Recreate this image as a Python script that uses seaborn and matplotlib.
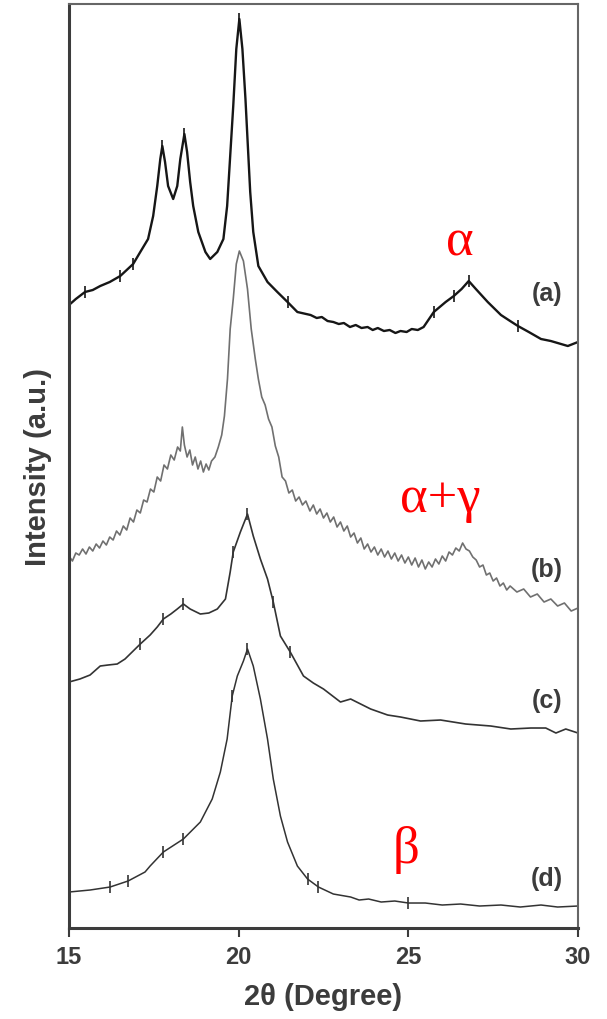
import numpy as np
import pandas as pd
import matplotlib
matplotlib.use("Agg")
import matplotlib.pyplot as plt
import seaborn as sns

# XRD patterns of the four samples (2-theta in degrees, intensity in a.u., stacked offsets)
a_angle = [15.00, 15.20, 15.47, 15.70, 15.92, 16.20, 16.51, 16.70, 16.89, 17.10, 17.33, 17.48,
           17.60, 17.69, 17.75, 17.83, 17.92, 18.07, 18.19, 18.28, 18.40, 18.48, 18.57, 18.66,
           18.81, 19.02, 19.16, 19.37, 19.55, 19.66, 19.75, 19.84, 19.93, 20.02, 20.11, 20.20,
           20.26, 20.34, 20.43, 20.58, 20.85, 21.14, 21.44, 21.73, 22.12, 22.30, 22.45, 22.62,
           22.79, 22.95, 23.10, 23.28, 23.45, 23.62, 23.80, 23.95, 24.10, 24.28, 24.45, 24.62,
           24.77, 24.95, 25.10, 25.28, 25.45, 25.75, 26.10, 26.34, 26.57, 26.78, 26.99, 27.34,
           27.73, 28.00, 28.23, 28.55, 28.91, 29.20, 29.50, 29.70, 30.00]
a_intensity = [622, 628, 635, 637, 641, 645, 651, 657, 663, 675, 688, 711,
               741, 768, 781, 765, 741, 728, 741, 768, 793, 775, 745, 721,
               695, 675, 668, 675, 688, 721, 771, 821, 878, 908, 878, 828,
               788, 735, 695, 661, 645, 635, 625, 615, 612, 609, 610, 606,
               605, 603, 604, 600, 602, 599, 600, 597, 599, 596, 597, 594,
               596, 595, 598, 597, 600, 615, 625, 631, 638, 646, 638, 625,
               612, 606, 601, 595, 588, 586, 583, 581, 585]

b_angle = [15.00, 15.10, 15.20, 15.30, 15.40, 15.50, 15.60, 15.70, 15.80, 15.90,
           16.00, 16.10, 16.20, 16.30, 16.40, 16.50, 16.60, 16.70, 16.80, 16.90,
           17.00, 17.10, 17.20, 17.30, 17.40, 17.50, 17.60, 17.70, 17.80, 17.90,
           18.00, 18.10, 18.20, 18.28, 18.34, 18.40, 18.48, 18.56, 18.64, 18.72,
           18.80, 18.88, 18.96, 19.04, 19.12, 19.20, 19.30, 19.40, 19.50, 19.58,
           19.67, 19.75, 19.84, 19.93, 20.02, 20.14, 20.26, 20.37, 20.49, 20.58,
           20.68, 20.78, 20.88, 20.98, 21.08, 21.18, 21.28, 21.38, 21.48, 21.58,
           21.68, 21.78, 21.88, 21.98, 22.10, 22.20, 22.30, 22.40, 22.50, 22.60,
           22.70, 22.80, 22.90, 23.00, 23.10, 23.20, 23.30, 23.40, 23.50, 23.60,
           23.70, 23.80, 23.90, 24.00, 24.10, 24.20, 24.30, 24.40, 24.50, 24.60,
           24.70, 24.80, 24.90, 25.00, 25.10, 25.20, 25.30, 25.40, 25.50, 25.60,
           25.70, 25.80, 25.90, 26.00, 26.10, 26.20, 26.30, 26.40, 26.50, 26.60,
           26.70, 26.80, 26.90, 27.00, 27.10, 27.20, 27.30, 27.40, 27.50, 27.60,
           27.70, 27.80, 27.90, 28.00, 28.20, 28.40, 28.60, 28.80, 29.00, 29.20,
           29.40, 29.60, 29.80, 30.00]
b_intensity = [371, 366, 374, 372, 378, 373, 380, 376, 383, 379,
               386, 382, 390, 387, 396, 392, 401, 397, 409, 405,
               417, 414, 427, 425, 438, 435, 450, 446, 462, 458,
               472, 467, 480, 476, 500, 482, 470, 477, 462, 470,
               458, 466, 455, 463, 457, 466, 470, 480, 492, 511,
               548, 598, 628, 663, 676, 666, 638, 598, 568, 548,
               530, 522, 508, 500, 481, 470, 450, 446, 434, 437,
               426, 430, 422, 426, 416, 422, 413, 418, 409, 414,
               405, 410, 400, 405, 396, 401, 390, 394, 384, 389,
               378, 383, 375, 380, 372, 378, 370, 376, 368, 374,
               366, 372, 364, 370, 362, 369, 360, 367, 358, 365,
               360, 368, 363, 371, 366, 375, 372, 379, 376, 384,
               378, 376, 370, 367, 360, 362, 352, 354, 346, 349,
               341, 344, 337, 341, 335, 338, 330, 333, 325, 328,
               321, 324, 316, 319]

c_angle = [15.00, 15.32, 15.62, 15.92, 16.15, 16.42, 16.65, 16.89, 17.10, 17.39,
           17.60, 17.78, 18.00, 18.19, 18.37, 18.57, 18.87, 19.12, 19.37, 19.61,
           19.75, 19.84, 20.05, 20.26, 20.43, 20.64, 20.85, 21.02, 21.23, 21.52,
           21.91, 22.20, 22.50, 23.00, 23.30, 23.89, 24.39, 24.77, 25.36, 25.95,
           26.69, 27.43, 28.02, 28.61, 29.05, 29.35, 29.64, 30.00]
c_intensity = [245, 248, 252, 261, 262, 263, 268, 276, 283, 292,
               300, 308, 313, 318, 323, 318, 313, 314, 318, 328,
               355, 375, 395, 413, 391, 368, 348, 325, 291, 275,
               251, 244, 238, 225, 228, 218, 212, 210, 206, 207,
               203, 201, 198, 199, 199, 194, 198, 194]

d_angle = [15.00, 15.62, 16.21, 16.74, 17.24, 17.39, 17.78, 18.37, 18.87, 19.22,
           19.46, 19.66, 19.81, 19.96, 20.14, 20.26, 20.43, 20.64, 20.85, 21.02,
           21.23, 21.44, 21.73, 22.03, 22.35, 22.79, 23.30, 23.55, 23.83, 24.20,
           24.60, 25.00, 25.50, 26.00, 26.54, 27.10, 27.73, 28.30, 28.91, 29.40,
           30.00]
d_intensity = [35, 37, 40, 46, 55, 61, 75, 88, 105, 128,
               155, 188, 231, 251, 266, 278, 261, 228, 188, 148,
               111, 85, 61, 48, 40, 33, 30, 27, 28, 25,
               26, 24, 24, 22, 23, 21, 22, 20, 22, 20,
               21]

sample_labels = ["(a)", "(b)", "(c)", "(d)"]
phase_labels = ["\u03b1", "\u03b1+\u03b3", "\u03b2"]
x_ticks = [15, 20, 25, 30]

sns.set_theme(style="ticks")
plt.rcParams["font.family"] = ["Liberation Sans", "DejaVu Sans"]

fig = plt.figure(figsize=(6.07, 10.20), dpi=100)
ax = fig.add_axes([0.1137, 0.0892, 0.8385, 0.9059])

curves = [
    (a_angle, a_intensity, "#161616", 1.7, [2, 6, 8, 14, 20, 33, 42, 65, 67, 69, 74]),
    (b_angle, b_intensity, "#707070", 1.2, None),
    (c_angle, c_intensity, "#333333", 1.2, [8, 11, 14, 21, 23, 27, 29]),
    (d_angle, d_intensity, "#333333", 1.1, [2, 3, 6, 7, 12, 15, 23, 24, 31]),
]
for ang, inten, col, lw, marks in curves:
    df = pd.DataFrame({"angle": ang, "intensity": inten})
    kw = {}
    if marks is not None:
        kw = dict(marker="|", markevery=marks, markersize=9, markeredgewidth=1.2,
                  markeredgecolor=col)
    sns.lineplot(data=df, x="angle", y="intensity", ax=ax, color=col, linewidth=lw,
                 sort=False, estimator=None, **kw)

ax.set_xlim(15, 30)
ax.set_ylim(-1, 923)
ax.set_xticks(x_ticks)
ax.set_xticklabels([str(t) for t in x_ticks])
ax.set_yticks([])

text_gray = "#3c3c3c"
ax.tick_params(axis="x", direction="out", length=6.5, width=1.5, colors="#3c3c3c",
               labelsize=17, pad=6)
for lab in ax.get_xticklabels():
    lab.set_fontweight("bold")

for side in ["left", "bottom"]:
    ax.spines[side].set_linewidth(2.2)
    ax.spines[side].set_color("#3c3c3c")
for side in ["top", "right"]:
    ax.spines[side].set_visible(True)
    ax.spines[side].set_linewidth(1.5)
    ax.spines[side].set_color("#666666")

ax.set_xlabel("2\u03b8 (Degree)", fontsize=21, fontweight="bold", color=text_gray, labelpad=10)
ax.set_ylabel("Intensity (a.u.)", fontsize=21, fontweight="bold", color=text_gray, labelpad=12)

label_y = [634, 358, 227, 49]
for lab, yv in zip(sample_labels, label_y):
    ax.text(29.08, yv, lab, ha="center", va="center", fontsize=18, fontweight="bold",
            color=text_gray)

phase_pos = [(26.51, 673), (25.95, 416), (24.92, 65)]
for lab, (xv, yv) in zip(phase_labels, phase_pos):
    ax.text(xv, yv, lab, ha="center", va="baseline", fontsize=38, color="#ff0000",
            family=["Liberation Serif", "DejaVu Serif"])

fig.savefig("out.png", dpi=100)
